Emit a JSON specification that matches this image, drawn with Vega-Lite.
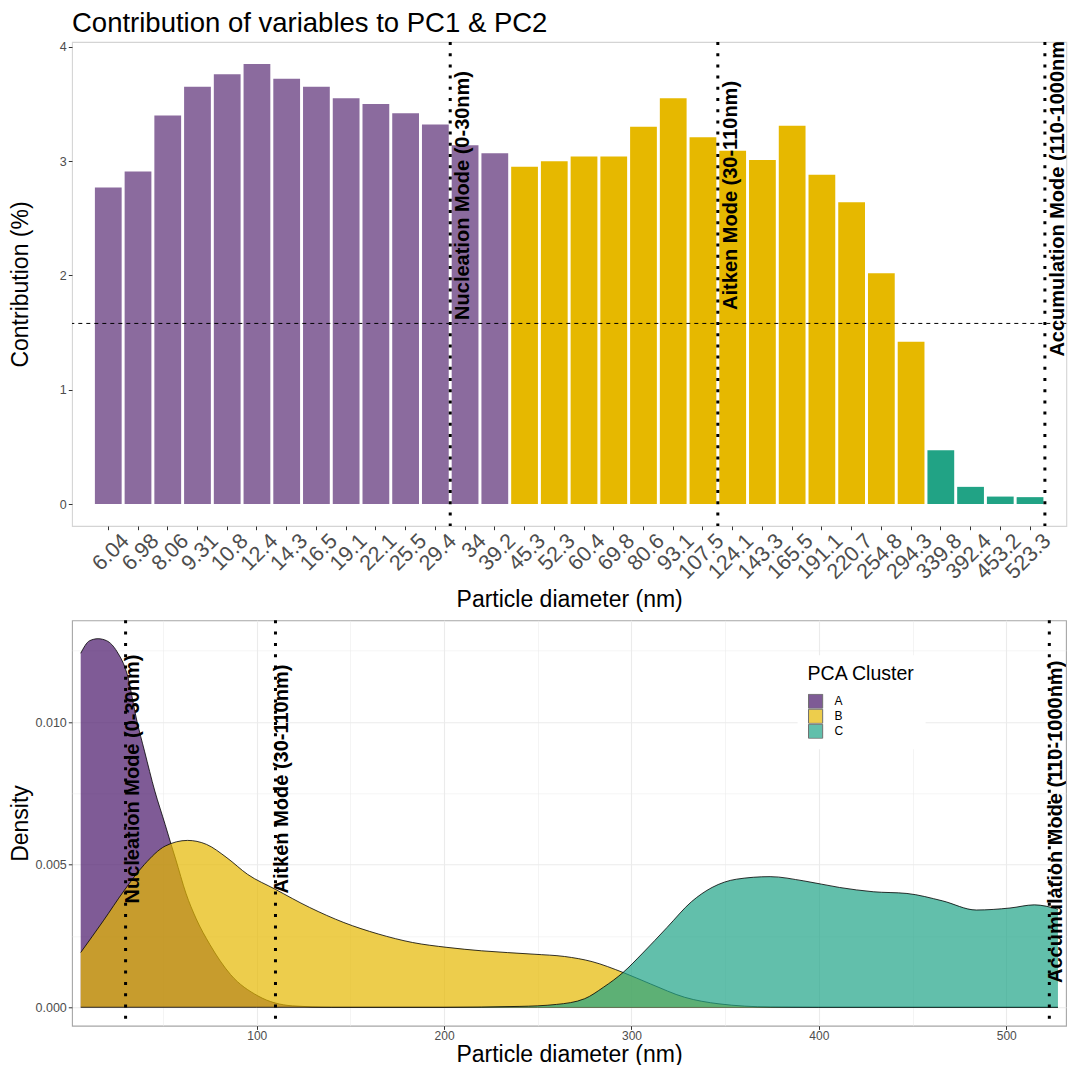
{
  "$schema": "https://vega.github.io/schema/vega-lite/v6.json",
  "background": "white",
  "padding": {"left": 9, "top": 8, "right": 0, "bottom": 0},
  "config": {
    "font": "Liberation Sans",
    "axis": {"labelFont": "Liberation Sans", "titleFont": "Liberation Sans"},
    "legend": {"labelFont": "Liberation Sans", "titleFont": "Liberation Sans"}
  },
  "spacing": 94.3,
  "bounds": "flush",
  "resolve": {
    "scale": {"x": "independent", "y": "independent", "color": "independent"},
    "legend": {"color": "independent"}
  },
  "vconcat": [
    {
      "width": 994.3,
      "height": 484,
      "view": {"stroke": "#d4d4d4", "strokeWidth": 1.1},
      "title": {
        "text": "Contribution of variables to PC1 & PC2",
        "anchor": "start",
        "frame": "group",
        "fontSize": 27.5,
        "fontWeight": "normal",
        "color": "black",
        "baseline": "alphabetic",
        "offset": -18.5
      },
      "layer": [
        {
          "data": {
            "values": [
              {"diameter": "6.04", "contribution": 2.77, "cluster": "A"},
              {"diameter": "6.98", "contribution": 2.91, "cluster": "A"},
              {"diameter": "8.06", "contribution": 3.40, "cluster": "A"},
              {"diameter": "9.31", "contribution": 3.65, "cluster": "A"},
              {"diameter": "10.8", "contribution": 3.76, "cluster": "A"},
              {"diameter": "12.4", "contribution": 3.85, "cluster": "A"},
              {"diameter": "14.3", "contribution": 3.72, "cluster": "A"},
              {"diameter": "16.5", "contribution": 3.65, "cluster": "A"},
              {"diameter": "19.1", "contribution": 3.55, "cluster": "A"},
              {"diameter": "22.1", "contribution": 3.50, "cluster": "A"},
              {"diameter": "25.5", "contribution": 3.42, "cluster": "A"},
              {"diameter": "29.4", "contribution": 3.32, "cluster": "A"},
              {"diameter": "34", "contribution": 3.14, "cluster": "A"},
              {"diameter": "39.2", "contribution": 3.07, "cluster": "A"},
              {"diameter": "45.3", "contribution": 2.95, "cluster": "B"},
              {"diameter": "52.3", "contribution": 3.00, "cluster": "B"},
              {"diameter": "60.4", "contribution": 3.04, "cluster": "B"},
              {"diameter": "69.8", "contribution": 3.04, "cluster": "B"},
              {"diameter": "80.6", "contribution": 3.30, "cluster": "B"},
              {"diameter": "93.1", "contribution": 3.55, "cluster": "B"},
              {"diameter": "107.5", "contribution": 3.21, "cluster": "B"},
              {"diameter": "124.1", "contribution": 3.09, "cluster": "B"},
              {"diameter": "143.3", "contribution": 3.01, "cluster": "B"},
              {"diameter": "165.5", "contribution": 3.31, "cluster": "B"},
              {"diameter": "191.1", "contribution": 2.88, "cluster": "B"},
              {"diameter": "220.7", "contribution": 2.64, "cluster": "B"},
              {"diameter": "254.8", "contribution": 2.02, "cluster": "B"},
              {"diameter": "294.3", "contribution": 1.42, "cluster": "B"},
              {"diameter": "339.8", "contribution": 0.47, "cluster": "C"},
              {"diameter": "392.4", "contribution": 0.15, "cluster": "C"},
              {"diameter": "453.2", "contribution": 0.065, "cluster": "C"},
              {"diameter": "523.3", "contribution": 0.06, "cluster": "C"}
            ]
          },
          "mark": {"type": "bar", "width": {"band": 1}},
          "encoding": {
            "x": {
              "field": "diameter",
              "type": "ordinal",
              "title": "Particle diameter (nm)",
              "scale": {
                "domain": ["6.04","6.98","8.06","9.31","10.8","12.4","14.3","16.5","19.1","22.1","25.5","29.4","34","39.2","45.3","52.3","60.4","69.8","80.6","93.1","107.5","124.1","143.3","165.5","191.1","220.7","254.8","294.3","339.8","392.4","453.2","523.3"],
                "paddingInner": 0.1,
                "paddingOuter": 0.77
              },
              "axis": {
                "domain": false,
                "grid": false,
                "labelAngle": -45,
                "labelAlign": "right",
                "labelBaseline": "top",
                "labelFontSize": 21.5,
                "labelColor": "#4d4d4d",
                "labelPadding": 0,
                "labelOffset": 10,
                "tickColor": "#333333",
                "tickSize": 3.7,
                "tickWidth": 1,
                "titleFontSize": 23,
                "titleFontWeight": "normal",
                "titleColor": "black",
                "titleBaseline": "alphabetic",
                "titleY": 80
              }
            },
            "y": {
              "field": "contribution",
              "type": "quantitative",
              "title": "Contribution (%)",
              "scale": {"domain": [-0.1925, 4.0425], "nice": false, "zero": false},
              "axis": {
                "values": [0, 1, 2, 3, 4],
                "format": "d",
                "domain": false,
                "grid": false,
                "labelFontSize": 12.5,
                "labelColor": "#4d4d4d",
                "labelPadding": 2,
                "tickColor": "#333333",
                "tickSize": 3.7,
                "tickWidth": 1,
                "titleFontSize": 23,
                "titleFontWeight": "normal",
                "titleColor": "black",
                "titleAngle": 270,
                "titleBaseline": "alphabetic",
                "titleX": -44.2
              }
            },
            "color": {
              "field": "cluster",
              "type": "nominal",
              "scale": {"domain": ["A", "B", "C"], "range": ["#8b6b9e", "#e6b800", "#21a385"]},
              "legend": null
            }
          }
        },
        {
          "data": {"values": [{"expected": 1.58}]},
          "mark": {"type": "rule", "color": "black", "strokeWidth": 1, "strokeDash": [4, 4]},
          "encoding": {"y": {"field": "expected", "type": "quantitative"}}
        },
        {
          "data": {
            "values": [
              {"diameter": "29.4"},
              {"diameter": "107.5"},
              {"diameter": "523.3"}
            ]
          },
          "mark": {"type": "rule", "color": "black", "strokeWidth": 3, "strokeDash": [3, 8.2]},
          "encoding": {
            "x": {"field": "diameter", "type": "ordinal", "bandPosition": 1.0556, "title": "Particle diameter (nm)"}
          }
        },
        {
          "data": {
            "values": [
              {"diameter": "29.4", "ypos": 2.7, "label": "Nucleation Mode (0-30nm)"},
              {"diameter": "107.5", "ypos": 2.7, "label": "Aitken Mode (30-110nm)"},
              {"diameter": "523.3", "ypos": 2.7, "label": "Accumulation Mode (110-1000nm)"}
            ]
          },
          "mark": {"type": "text", "angle": 270, "align": "center", "baseline": "top", "dy": 3, "fontSize": 20, "fontWeight": "bold", "color": "black", "clip": true},
          "encoding": {
            "x": {"field": "diameter", "type": "ordinal", "bandPosition": 1.0556, "title": "Particle diameter (nm)"},
            "y": {"field": "ypos", "type": "quantitative"},
            "text": {"field": "label"}
          }
        }
      ]
    },
    {
      "width": 994,
      "height": 405.4,
      "view": {"stroke": "#a6a6a6", "strokeWidth": 1.1},
      "data": {
        "values": [
          {"x": 6.04, "density": 0.01241, "cluster": "A"},
          {"x": 10.8, "density": 0.01285, "cluster": "A"},
          {"x": 15.3, "density": 0.01292, "cluster": "A"},
          {"x": 19.9, "density": 0.01285, "cluster": "A"},
          {"x": 25.4, "density": 0.01247, "cluster": "A"},
          {"x": 30.9, "density": 0.01166, "cluster": "A"},
          {"x": 36.1, "density": 0.01002, "cluster": "A"},
          {"x": 40.1, "density": 0.00898, "cluster": "A"},
          {"x": 45.6, "density": 0.00758, "cluster": "A"},
          {"x": 51.1, "density": 0.00641, "cluster": "A"},
          {"x": 54.3, "density": 0.00571, "cluster": "A"},
          {"x": 56.7, "density": 0.0052, "cluster": "A"},
          {"x": 62.2, "density": 0.0040, "cluster": "A"},
          {"x": 67.7, "density": 0.0031, "cluster": "A"},
          {"x": 75.0, "density": 0.0022, "cluster": "A"},
          {"x": 86.0, "density": 0.00115, "cluster": "A"},
          {"x": 100.6, "density": 0.0004, "cluster": "A"},
          {"x": 119, "density": 0.00005, "cluster": "A"},
          {"x": 140, "density": 0, "cluster": "A"},
          {"x": 250, "density": 0, "cluster": "A"},
          {"x": 400, "density": 0, "cluster": "A"},
          {"x": 527.6, "density": 0, "cluster": "A"},
          {"x": 6.04, "density": 0.00192, "cluster": "B"},
          {"x": 18.1, "density": 0.00303, "cluster": "B"},
          {"x": 29.1, "density": 0.00408, "cluster": "B"},
          {"x": 40.1, "density": 0.00501, "cluster": "B"},
          {"x": 51.1, "density": 0.00565, "cluster": "B"},
          {"x": 63.1, "density": 0.00585, "cluster": "B"},
          {"x": 73.2, "density": 0.00571, "cluster": "B"},
          {"x": 84.1, "density": 0.00524, "cluster": "B"},
          {"x": 95.1, "density": 0.00466, "cluster": "B"},
          {"x": 109.8, "density": 0.00414, "cluster": "B"},
          {"x": 128.2, "density": 0.0035, "cluster": "B"},
          {"x": 146.5, "density": 0.00297, "cluster": "B"},
          {"x": 164.8, "density": 0.00257, "cluster": "B"},
          {"x": 183.2, "density": 0.00227, "cluster": "B"},
          {"x": 201.5, "density": 0.0021, "cluster": "B"},
          {"x": 219.9, "density": 0.00198, "cluster": "B"},
          {"x": 248, "density": 0.00186, "cluster": "B"},
          {"x": 264.3, "density": 0.00178, "cluster": "B"},
          {"x": 279, "density": 0.0016, "cluster": "B"},
          {"x": 295.5, "density": 0.00122, "cluster": "B"},
          {"x": 310.1, "density": 0.00082, "cluster": "B"},
          {"x": 328.4, "density": 0.00035, "cluster": "B"},
          {"x": 346.7, "density": 0.00012, "cluster": "B"},
          {"x": 374, "density": 0.00001, "cluster": "B"},
          {"x": 400, "density": 0, "cluster": "B"},
          {"x": 527.6, "density": 0, "cluster": "B"},
          {"x": 6.04, "density": 0, "cluster": "C"},
          {"x": 100, "density": 0, "cluster": "C"},
          {"x": 200, "density": 0, "cluster": "C"},
          {"x": 240, "density": 0.00003, "cluster": "C"},
          {"x": 260, "density": 0.0001, "cluster": "C"},
          {"x": 275, "density": 0.0003, "cluster": "C"},
          {"x": 285, "density": 0.0007, "cluster": "C"},
          {"x": 295.5, "density": 0.00122, "cluster": "C"},
          {"x": 306, "density": 0.0019, "cluster": "C"},
          {"x": 319, "density": 0.0028, "cluster": "C"},
          {"x": 332, "density": 0.0037, "cluster": "C"},
          {"x": 343, "density": 0.0042, "cluster": "C"},
          {"x": 356, "density": 0.00449, "cluster": "C"},
          {"x": 374, "density": 0.00458, "cluster": "C"},
          {"x": 392, "density": 0.00443, "cluster": "C"},
          {"x": 411, "density": 0.0042, "cluster": "C"},
          {"x": 429, "density": 0.00405, "cluster": "C"},
          {"x": 447, "density": 0.00399, "cluster": "C"},
          {"x": 466, "density": 0.00373, "cluster": "C"},
          {"x": 484, "density": 0.00341, "cluster": "C"},
          {"x": 502, "density": 0.00348, "cluster": "C"},
          {"x": 515, "density": 0.00359, "cluster": "C"},
          {"x": 527.6, "density": 0.00344, "cluster": "C"}
        ]
      },
      "encoding": {
        "x": {
          "field": "x",
          "type": "quantitative",
          "title": "Particle diameter (nm)",
          "scale": {"domain": [1.4, 531.9], "nice": false, "zero": false},
          "axis": {
            "values": [50, 100, 150, 200, 250, 300, 350, 400, 450, 500],
            "labelExpr": "datum.value % 100 === 0 ? datum.label : ''",
            "domain": false,
            "grid": true,
            "gridColor": "#ebebeb",
            "gridWidth": {"condition": {"test": "datum.value % 100 === 0", "value": 1.1}, "value": 0.55},
            "tickOpacity": {"condition": {"test": "datum.value % 100 === 0", "value": 1}, "value": 0},
            "tickColor": "#333333",
            "tickSize": 3.7,
            "tickWidth": 1,
            "labelFontSize": 12,
            "labelColor": "#4d4d4d",
            "labelPadding": 1.5,
            "titleFontSize": 23,
            "titleFontWeight": "normal",
            "titleColor": "black",
            "titleBaseline": "alphabetic",
            "titleY": 35.5
          }
        },
        "y": {
          "field": "density",
          "type": "quantitative",
          "title": "Density",
          "stack": null,
          "scale": {"domain": [-0.000646, 0.013566], "nice": false, "zero": false},
          "axis": {
            "values": [0, 0.0025, 0.005, 0.0075, 0.01, 0.0125],
            "format": ".3f",
            "labelExpr": "round(datum.value * 10000) % 50 === 0 ? datum.label : ''",
            "domain": false,
            "grid": true,
            "gridColor": "#ebebeb",
            "gridWidth": {"condition": {"test": "round(datum.value * 10000) % 50 === 0", "value": 1.1}, "value": 0.55},
            "tickOpacity": {"condition": {"test": "round(datum.value * 10000) % 50 === 0", "value": 1}, "value": 0},
            "tickColor": "#333333",
            "tickSize": 3.7,
            "tickWidth": 1,
            "labelFontSize": 12.5,
            "labelColor": "#4d4d4d",
            "labelPadding": 2,
            "titleFontSize": 23,
            "titleFontWeight": "normal",
            "titleColor": "black",
            "titleAngle": 270,
            "titleBaseline": "alphabetic",
            "titleX": -44.2
          }
        }
      },
      "layer": [
        {
          "transform": [{"filter": "datum.cluster === 'A'"}],
          "mark": {"type": "area", "fillOpacity": 0.7, "interpolate": "monotone"},
          "encoding": {
            "color": {
              "field": "cluster",
              "type": "nominal",
              "scale": {"domain": ["A", "B", "C"], "range": ["#481669", "#e6b800", "#1fa488"]},
              "legend": {
                "orient": "none",
                "legendX": 725.6,
                "legendY": 35,
                "title": "PCA Cluster",
                "titleFontSize": 19.5,
                "titleFontWeight": "normal",
                "titleColor": "black",
                "titlePadding": 9,
                "labelFontSize": 12,
                "labelColor": "black",
                "labelOffset": 11,
                "symbolType": "square",
                "symbolSize": 200,
                "symbolOpacity": 0.7,
                "symbolStrokeColor": "#333333",
                "symbolStrokeWidth": 1,
                "rowPadding": 0,
                "clipHeight": 15,
                "fillColor": "white",
                "padding": 10
              }
            }
          }
        },
        {
          "transform": [{"filter": "datum.cluster === 'A'"}],
          "mark": {"type": "line", "color": "black", "strokeWidth": 0.8, "interpolate": "monotone"},
          "encoding": {}
        },
        {
          "transform": [{"filter": "datum.cluster === 'B'"}],
          "mark": {"type": "area", "fillOpacity": 0.7, "interpolate": "monotone"},
          "encoding": {"color": {"field": "cluster", "type": "nominal"}}
        },
        {
          "transform": [{"filter": "datum.cluster === 'B'"}],
          "mark": {"type": "line", "color": "black", "strokeWidth": 0.8, "interpolate": "monotone"},
          "encoding": {}
        },
        {
          "transform": [{"filter": "datum.cluster === 'C'"}],
          "mark": {"type": "area", "fillOpacity": 0.7, "interpolate": "monotone"},
          "encoding": {"color": {"field": "cluster", "type": "nominal"}}
        },
        {
          "transform": [{"filter": "datum.cluster === 'C'"}],
          "mark": {"type": "line", "color": "black", "strokeWidth": 0.8, "interpolate": "monotone"},
          "encoding": {}
        },
        {
          "data": {"values": [{"boundary": 30}, {"boundary": 110}, {"boundary": 523}]},
          "mark": {"type": "rule", "color": "black", "strokeWidth": 3, "strokeDash": [3, 8.3]},
          "encoding": {"x": {"field": "boundary", "type": "quantitative"}, "y": null}
        },
        {
          "data": {
            "values": [
              {"boundary": 30, "ypos": 0.008, "label": "Nucleation Mode (0-30nm)"},
              {"boundary": 110, "ypos": 0.008, "label": "Aitken Mode (30-110nm)"},
              {"boundary": 523, "ypos": 0.0065, "label": "Accumulation Mode (110-1000nm)"}
            ]
          },
          "mark": {"type": "text", "angle": 270, "align": "center", "baseline": "top", "dy": -3, "fontSize": 20, "fontWeight": "bold", "color": "black", "clip": true},
          "encoding": {
            "x": {"field": "boundary", "type": "quantitative"},
            "y": {"field": "ypos", "type": "quantitative"},
            "text": {"field": "label"}
          }
        }
      ]
    }
  ]
}
